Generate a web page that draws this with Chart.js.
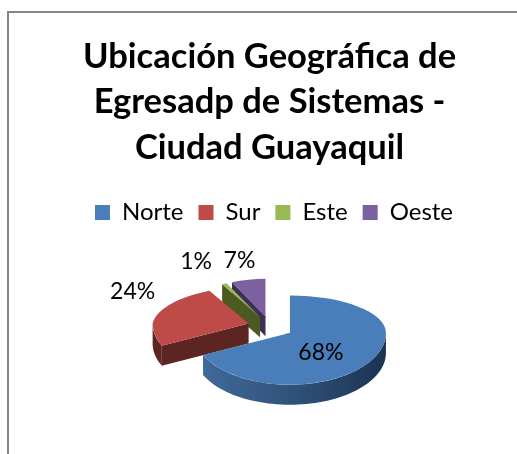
<!DOCTYPE html>
<html><head><meta charset="utf-8">
<script src="https://cdn.jsdelivr.net/npm/chart.js@4"></script>
<style>
html,body{margin:0;padding:0;background:#fff;width:517px;height:454px;overflow:hidden}
#frame{position:absolute;left:7px;top:11px;width:510px;height:443px;border-left:2px solid #868686;border-top:2px solid #868686;box-sizing:border-box}
#wrap{position:absolute;left:0;top:0;width:517px;height:454px}
</style></head><body>
<div id="frame"></div>
<div id="wrap"><canvas id="c" width="517" height="454"></canvas></div>
<script>
const categories = ['Norte', 'Sur', 'Este', 'Oeste'];
const values = [68, 24, 1, 7];
const percentLabels = ['68%', '24%', '1%', '7%'];
const titleLines = ['Ubicación Geográfica de', 'Egresadp de Sistemas -', 'Ciudad Guayaquil'];
const sliceColors = ['#4a7ebb', '#be4b48', '#98b954', '#7d60a0'];
const sideColors = ['#2f5279', '#5c2522', '#4a5a21', '#3e2f55'];

const CX = 270.5, CY = 327, EXPLODE_SQUASH = 0.48, BACK = 0.39, FRONT = 0.54, EXPLODE = 23, DEPTH = 20;
const widthScale = [1, 1, 0.82, 0.82];
const backShear = [0, -0.083, 0, 0];
const labelNudge = [[31, 20], [-116, -32], [-64, -56], [-26, -56]];

function apex(el) {
  const mid = (el.startAngle + el.endAngle) / 2;
  return {
    x: CX + EXPLODE * Math.cos(mid),
    y: CY + EXPLODE_SQUASH * EXPLODE * Math.sin(mid)
  };
}
function project(el, i, angle, r) {
  const a = apex(el), s = Math.sin(angle);
  return {
    x: a.x + widthScale[i] * r * Math.cos(angle) + (s < 0 ? backShear[i] * r * s : 0),
    y: a.y + r * s * (s > 0 ? FRONT : BACK)
  };
}
function drawRadialWall(ctx, el, i, color) {
  const a = project(el, i, el.startAngle, 0), b = project(el, i, el.startAngle, el.outerRadius);
  ctx.fillStyle = color;
  ctx.beginPath();
  ctx.moveTo(a.x, a.y); ctx.lineTo(b.x, b.y);
  ctx.lineTo(b.x, b.y + DEPTH); ctx.lineTo(a.x, a.y + DEPTH);
  ctx.closePath(); ctx.fill();
}
function drawOuterWall(ctx, el, i, fill) {
  const from = Math.max(el.startAngle, 0), to = Math.min(el.endAngle, Math.PI);
  if (to <= from) return;
  ctx.fillStyle = fill;
  ctx.beginPath();
  const steps = 60;
  for (let k = 0; k <= steps; k++) {
    const p = project(el, i, from + (to - from) * k / steps, el.outerRadius);
    if (k) ctx.lineTo(p.x, p.y); else ctx.moveTo(p.x, p.y);
  }
  for (let k = steps; k >= 0; k--) {
    const p = project(el, i, from + (to - from) * k / steps, el.outerRadius);
    ctx.lineTo(p.x, p.y + DEPTH);
  }
  ctx.closePath(); ctx.fill();
}
function drawTop(ctx, el, i, scaleY, shear, clipY, clipH) {
  const a = apex(el);
  ctx.save();
  ctx.beginPath();
  ctx.rect(0, clipY, 517, clipH);
  ctx.clip();
  ctx.translate(a.x, a.y);
  ctx.transform(widthScale[i], 0, shear, scaleY, 0, 0);
  ctx.translate(-el.x, -el.y);
  el.draw(ctx);
  ctx.restore();
}
const pie3d = {
  id: 'pie3d',
  afterLayout(chart) {
    chart.legend.left += 4.5;
    chart.legend.right += 4.5;
  },
  beforeDatasetDraw(chart) {
    const ctx = chart.ctx, arcs = chart.getDatasetMeta(0).data;
    ctx.save();
    [3, 2, 1].forEach(i => {
      drawRadialWall(ctx, arcs[i], i, sideColors[i]);
      drawOuterWall(ctx, arcs[i], i, sideColors[i]);
    });
    const g = ctx.createLinearGradient(200, 0, 388, 0);
    g.addColorStop(0, '#41699a');
    g.addColorStop(0.5, '#2f5279');
    g.addColorStop(1, '#1c3250');
    drawOuterWall(ctx, arcs[0], 0, g);
    arcs.forEach((el, i) => {
      const a = apex(el);
      drawTop(ctx, el, i, BACK, backShear[i], 0, a.y + 0.5);
      drawTop(ctx, el, i, FRONT, 0, a.y, 454 - a.y);
    });
    ctx.fillStyle = '#000';
    ctx.font = '23px Lato';
    ctx.textAlign = 'center';
    ctx.textBaseline = 'middle';
    arcs.forEach((el, i) => {
      const p = apex(el);
      ctx.fillText(percentLabels[i], p.x + labelNudge[i][0], p.y + labelNudge[i][1]);
    });
    ctx.restore();
    return false;
  }
};
new Chart(document.getElementById('c'), {
  type: 'pie',
  data: {
    labels: categories,
    datasets: [{ data: values, backgroundColor: sliceColors, borderWidth: 0, radius: 96, clip: false }]
  },
  plugins: [pie3d],
  options: {
    responsive: false,
    animation: false,
    layout: { padding: { left: 22, top: 34, bottom: 0, right: 0 } },
    plugins: {
      tooltip: { enabled: false },
      title: {
        display: true, text: titleLines, color: '#000',
        font: { family: 'Lato', size: 34.5, weight: 'bold', lineHeight: 1.32 },
        padding: { top: 0, bottom: 15 }
      },
      legend: {
        display: true, position: 'top',
        labels: {
          color: '#000', boxWidth: 15, boxHeight: 15, padding: 15,
          font: { family: 'Lato', size: 24 }
        }
      }
    }
  }
});
</script>
</body></html>
